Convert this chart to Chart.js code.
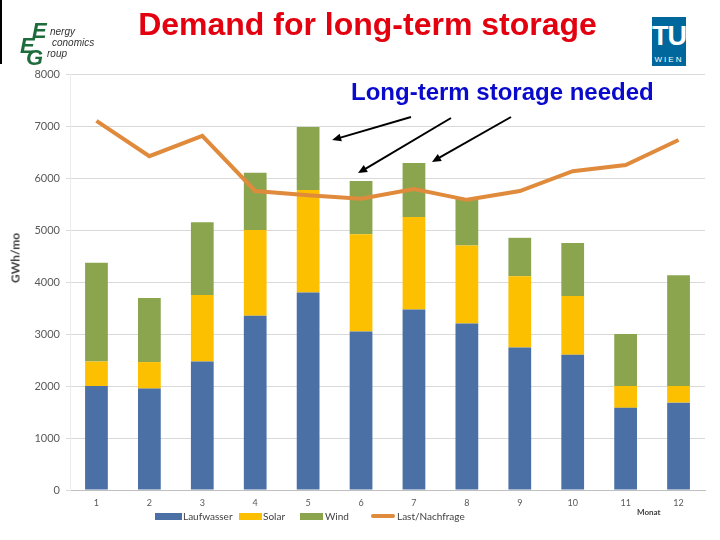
<!DOCTYPE html>
<html>
<head>
<meta charset="utf-8">
<script src="https://cdn.jsdelivr.net/npm/chart.js@4.4.0/dist/chart.umd.min.js"></script>
<style>
  body { margin: 0; background: #fff; }
  #wrap { position: relative; width: 720px; height: 540px; overflow: hidden; font-family: "Liberation Sans", Arial, sans-serif; }
  canvas { position: absolute; left: 0; top: 0; }
  .abs { position: absolute; white-space: nowrap; }
  #title { left: 0; width: 735px; top: 6px; text-align: center; color: #e3000f; font-weight: bold; font-size: 32px; }
  #note { left: 351px; top: 78px; color: #0a0acc; font-weight: bold; font-size: 24px; }
  #ytitle { left: 15px; top: 258px; transform: translate(-50%, -50%) rotate(-90deg); font-family: Lato, sans-serif; font-weight: bold; font-size: 12px; color: #404040; }
  #monat { left: 637px; top: 507px; font-family: Lato, sans-serif; font-weight: bold; font-size: 8px; color: #404040; }
  .lg { font-family: Lato, sans-serif; font-size: 10px; color: #404040; top: 510px; }
  .sw { position: absolute; top: 513px; height: 7px; }
  #tu { left: 652px; top: 17px; width: 34px; height: 49px; background: #00679c; color: #fff; text-align: center; }
  #tu .big { font-size: 27px; font-weight: bold; line-height: 30px; margin-top: 4px; letter-spacing: -1px; }
  #tu .small { font-size: 8px; letter-spacing: 2px; margin-top: 4px; }
  .eg { color: #1e6b3c; font-style: italic; font-weight: bold; }
  .et { color: #333; font-style: italic; font-size: 10px; }
</style>
</head>
<body>
<div id="wrap">
  <canvas id="chart" width="720" height="540"></canvas>
  <div class="abs" style="left:0;top:0;width:2px;height:64px;background:#000"></div>
  <div class="abs eg" style="left:32px;top:18px;font-size:22px">E</div>
  <div class="abs et" style="left:50px;top:26px">nergy</div>
  <div class="abs eg" style="left:20px;top:33px;font-size:22px">E</div>
  <div class="abs et" style="left:52px;top:37px">conomics</div>
  <div class="abs eg" style="left:26px;top:45px;font-size:22px">G</div>
  <div class="abs et" style="left:47px;top:48px">roup</div>
  <div class="abs" id="title">Demand for long-term storage</div>
  <div class="abs" id="tu"><div class="big">TU</div><div class="small">WIEN</div></div>
  <div class="abs" id="note">Long-term storage needed</div>
  <div class="abs" id="ytitle">GWh/mo</div>
  <div class="abs" id="monat">Monat</div>
  <div class="sw" style="left:155px;width:27px;background:#4a70a6"></div>
  <div class="abs lg" style="left:183px">Laufwasser</div>
  <div class="sw" style="left:239px;width:23px;background:#fdc000"></div>
  <div class="abs lg" style="left:263px">Solar</div>
  <div class="sw" style="left:300px;width:23px;background:#8aa54e"></div>
  <div class="abs lg" style="left:325px">Wind</div>
  <div class="sw" style="left:371px;width:24px;height:4px;top:514px;border-radius:2px;background:#e08a3c"></div>
  <div class="abs lg" style="left:397px">Last/Nachfrage</div>
</div>
<script>
const months = ["1", "2", "3", "4", "5", "6", "7", "8", "9", "10", "11", "12"];
const laufwasser = [2000, 1950, 2470, 3350, 3800, 3050, 3470, 3200, 2740, 2600, 1580, 1680];
const solar = [470, 510, 1280, 1650, 1970, 1870, 1780, 1500, 1370, 1130, 420, 320];
const wind = [1900, 1230, 1400, 1100, 1210, 1020, 1040, 900, 740, 1020, 1000, 2130];
const nachfrage = [7100, 6420, 6810, 5750, 5670, 5600, 5790, 5580, 5750, 6130, 6250, 6730];

// months the arrows point at (index into months)
const arrowMonths = [4, 5, 6];

const blue = "#4a70a6";
const yellow = "#fdc000";
const green = "#8aa54e";
const orange = "#e08a3c";

// arrows from the note down to the bars
const arrowPlugin = {
  id: "arrows",
  afterDatasetsDraw(chart) {
    const ctx = chart.ctx;
    const xs = chart.scales.x;
    const ys = chart.scales.y;
    const tails = [[411, 117], [451, 118], [511, 117]];
    const offs = [[24, 13], [-3, -8], [18, -1]];
    arrowMonths.forEach((m, i) => {
      const total = laufwasser[m] + solar[m] + wind[m];
      const tx = xs.getPixelForValue(m) + offs[i][0];
      const ty = ys.getPixelForValue(total) + offs[i][1];
      const [sx, sy] = tails[i];
      const ang = Math.atan2(ty - sy, tx - sx);
      ctx.save();
      ctx.strokeStyle = "#000";
      ctx.fillStyle = "#000";
      ctx.lineWidth = 2;
      ctx.beginPath();
      ctx.moveTo(sx, sy);
      ctx.lineTo(tx - 6 * Math.cos(ang), ty - 6 * Math.sin(ang));
      ctx.stroke();
      ctx.beginPath();
      ctx.moveTo(tx, ty);
      ctx.lineTo(tx - 9 * Math.cos(ang) + 4 * Math.sin(ang), ty - 9 * Math.sin(ang) - 4 * Math.cos(ang));
      ctx.lineTo(tx - 9 * Math.cos(ang) - 4 * Math.sin(ang), ty - 9 * Math.sin(ang) + 4 * Math.cos(ang));
      ctx.closePath();
      ctx.fill();
      ctx.restore();
    });
  }
};

new Chart(document.getElementById("chart").getContext("2d"), {
  type: "bar",
  data: {
    labels: months,
    datasets: [
      { label: "Last/Nachfrage", type: "line", data: nachfrage, borderColor: orange, borderWidth: 4, pointRadius: 0, stack: "line", order: 0, tension: 0 },
      { label: "Laufwasser", data: laufwasser, backgroundColor: blue, stack: "gen", order: 1 },
      { label: "Solar", data: solar, backgroundColor: yellow, stack: "gen", order: 1 },
      { label: "Wind", data: wind, backgroundColor: green, stack: "gen", order: 1 }
    ]
  },
  options: {
    responsive: false,
    animation: false,
    layout: { padding: { top: 74, right: 15, bottom: 33, left: 0 } },
    datasets: { bar: { categoryPercentage: 1, barPercentage: 0.43 } },
    plugins: { legend: { display: false }, tooltip: { enabled: false } },
    scales: {
      x: {
        stacked: true,
        grid: { display: false, drawTicks: false },
        border: { color: "#bfbfbf" },
        ticks: { font: { family: "Lato", size: 9 }, color: "#595959", padding: 8 },
        afterFit(s) { s.height = 17; }
      },
      y: {
        stacked: true,
        min: 0,
        max: 8000,
        ticks: { stepSize: 1000, font: { family: "Lato", size: 11 }, color: "#595959", padding: 6, callback: v => String(v) },
        grid: { color: "#d9d9d9", tickLength: 4 },
        border: { color: "#ececec" },
        afterFit(s) { s.width = 70; }
      }
    }
  },
  plugins: [arrowPlugin]
});
</script>
</body>
</html>
